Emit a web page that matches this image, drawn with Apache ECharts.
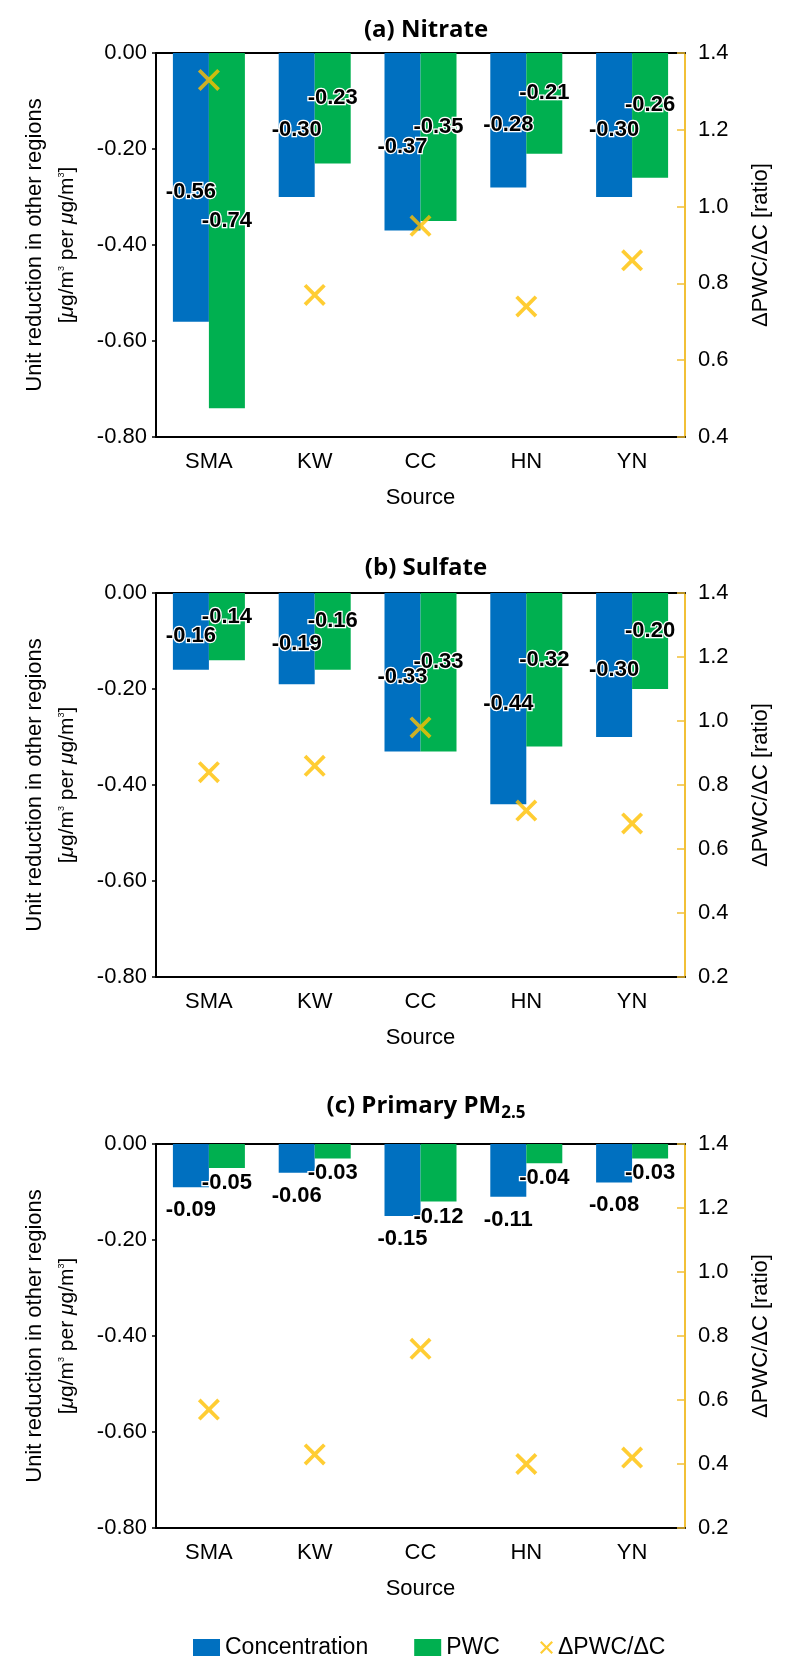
<!DOCTYPE html>
<html lang="en">
<head>
<meta charset="UTF-8">
<title>Unit reduction in other regions</title>
<script src="https://cdn.jsdelivr.net/npm/echarts@6/dist/echarts.min.js"></script>
<style>
  html, body { margin: 0; padding: 0; background: #fff; }
  #chart { width: 800px; height: 1679px; }
</style>
</head>
<body>
<div id="chart"></div>
<script>
// categories
var sources = ['SMA', 'KW', 'CC', 'HN', 'YN'];

// (a) nitrate
var nitrateConc  = [-0.56, -0.30, -0.37, -0.28, -0.30];
var nitratePwc   = [-0.74, -0.23, -0.35, -0.21, -0.26];
var nitrateRatio = [1.33, 0.77, 0.95, 0.74, 0.86];

// (b) sulfate
var sulfateConc  = [-0.16, -0.19, -0.33, -0.44, -0.30];
var sulfatePwc   = [-0.14, -0.16, -0.33, -0.32, -0.20];
var sulfateRatio = [0.84, 0.86, 0.98, 0.72, 0.68];

// (c) primary PM2.5
var primaryConc  = [-0.09, -0.06, -0.15, -0.11, -0.08];
var primaryPwc   = [-0.05, -0.03, -0.12, -0.04, -0.03];
var primaryRatio = [0.57, 0.43, 0.76, 0.40, 0.42];

// axis ranges
var leftMin = -0.8, leftMax = 0, leftStep = 0.2;
var rightMins = [0.4, 0.2, 0.2];
var rightMax = 1.4, rightStep = 0.2;

var BLUE = '#0070C0', GREEN = '#00B050', YELLOW = '#FFC000', AXIS_Y = '#F2C037';
var FONT = '"Liberation Sans", Arial, sans-serif';
var TFONT = '"Open Sans", "Noto Sans", sans-serif';
// thick x marker
var CROSS = 'path://M0,2.4L2.4,0L10,7.6L17.6,0L20,2.4L12.4,10L20,17.6L17.6,20L10,12.4L2.4,20L0,17.6L7.6,10Z';

var panels = [
  { title: '(a) Nitrate', conc: nitrateConc, pwc: nitratePwc, ratio: nitrateRatio, top: 53, titleTop: 13 },
  { title: '(b) Sulfate', conc: sulfateConc, pwc: sulfatePwc, ratio: sulfateRatio, top: 593, titleTop: 551 },
  { title: '{m|(c) Primary PM}{s|2.5}', conc: primaryConc, pwc: primaryPwc, ratio: primaryRatio, top: 1144, titleTop: 1086 }
];

var chart = echarts.init(document.getElementById('chart'));

var titles = [], grids = [], xAxes = [], yAxes = [], series = [];

panels.forEach(function (p, i) {
  titles.push({
    text: p.title,
    left: 421, top: p.titleTop, textAlign: 'center',
    textStyle: {
      fontFamily: TFONT, fontSize: 24, fontWeight: 'bold', color: '#000',
      rich: {
        m: { fontFamily: TFONT, fontSize: 24, fontWeight: 'bold', color: '#000' },
        s: { fontFamily: TFONT, fontSize: 17, fontWeight: 'bold', color: '#000', padding: [14, 0, 0, 0] }
      }
    }
  });
  grids.push({ left: 156, right: 115, top: p.top, height: 384 });

  // bottom category axis
  xAxes.push({
    gridIndex: i, type: 'category', data: sources, position: 'bottom',
    axisLine: { onZero: false, lineStyle: { color: '#000', width: 2 } },
    axisTick: { show: false },
    axisLabel: { color: '#000', fontSize: 22, fontFamily: FONT, margin: 14 },
    name: 'Source', nameLocation: 'middle', nameGap: 50,
    nameTextStyle: { color: '#000', fontSize: 22, fontFamily: FONT }
  });
  // top frame line
  xAxes.push({
    gridIndex: i, type: 'category', data: sources, position: 'top',
    axisLine: { onZero: false, lineStyle: { color: '#000', width: 2 } },
    axisTick: { show: false }, axisLabel: { show: false }
  });

  yAxes.push({
    gridIndex: i, type: 'value', position: 'left',
    min: leftMin, max: leftMax, interval: leftStep,
    axisLine: { show: true, lineStyle: { color: '#000', width: 2 } },
    axisTick: { show: true, length: 4, lineStyle: { color: '#000', width: 1.5 } },
    axisLabel: {
      color: '#000', fontSize: 22, fontFamily: FONT, margin: 9,
      formatter: function (v) { return v.toFixed(2); }
    },
    splitLine: { show: false },
    name: '{a|Unit reduction in other regions}\n{b|[}{bi|\u03bc}{b|g/m}{sup|3}{b| per }{bi|\u03bc}{b|g/m}{sup|3}{b|]}',
    nameLocation: 'middle', nameRotate: 90, nameGap: 72,
    nameTextStyle: {
      rich: {
        a: { fontFamily: FONT, fontSize: 22, color: '#000', lineHeight: 33 },
        b: { fontFamily: FONT, fontSize: 21, color: '#000', lineHeight: 33 },
        bi: { fontFamily: FONT, fontSize: 21, fontStyle: 'italic', color: '#000', lineHeight: 33 },
        sup: { fontFamily: FONT, fontSize: 9, color: '#000', lineHeight: 33, padding: [0, 0, 12, 0] }
      }
    }
  });
  yAxes.push({
    gridIndex: i, type: 'value', position: 'right',
    min: rightMins[i], max: rightMax, interval: rightStep,
    axisLine: { show: true, lineStyle: { color: AXIS_Y, width: 2 } },
    axisTick: { show: true, inside: true, length: 8, lineStyle: { color: AXIS_Y, width: 1.5 } },
    axisLabel: {
      color: '#000', fontSize: 22, fontFamily: FONT, margin: 13,
      formatter: function (v) { return v.toFixed(1); }
    },
    splitLine: { show: false },
    name: '\u0394PWC/\u0394C [ratio]',
    nameLocation: 'middle', nameRotate: 90, nameGap: 65,
    nameTextStyle: { color: '#000', fontSize: 22, fontFamily: FONT }
  });

  function barLabel(offsetY) {
    return {
      show: true,
      position: i === 2 ? 'bottom' : 'inside',
      distance: 4,
      offset: [0, offsetY],
      color: '#000', fontFamily: FONT, fontSize: 22, fontWeight: 'bold',
      textBorderColor: '#fff', textBorderWidth: 2.5,
      formatter: function (q) { return q.value.toFixed(2); }
    };
  }

  series.push({
    type: 'bar', name: 'Concentration', xAxisIndex: 2 * i, yAxisIndex: 2 * i,
    data: p.conc, barWidth: 36, barGap: '0%',
    itemStyle: { color: BLUE }, label: barLabel(i === 2 ? 8 : 5)
  });
  series.push({
    type: 'bar', name: 'PWC', xAxisIndex: 2 * i, yAxisIndex: 2 * i,
    data: p.pwc, barWidth: 36, barGap: '0%',
    itemStyle: { color: GREEN }, label: barLabel(i === 2 ? 0 : -10)
  });
  series.push({
    type: 'scatter', name: '\u0394PWC/\u0394C', xAxisIndex: 2 * i, yAxisIndex: 2 * i + 1,
    data: p.ratio, symbol: CROSS, symbolSize: 22,
    itemStyle: { color: YELLOW }, z: 5
  });
});

var legendText = { color: '#000', fontSize: 23, fontFamily: FONT };

chart.setOption({
  animation: false,
  backgroundColor: '#fff',
  title: titles,
  grid: grids,
  xAxis: xAxes,
  yAxis: yAxes,
  legend: [
    {
      left: 188, top: 1631, itemWidth: 27, itemHeight: 17, itemGap: 46,
      textStyle: legendText,
      data: [
        { name: 'Concentration', icon: 'rect' },
        { name: 'PWC', icon: 'rect' }
      ]
    },
    {
      left: 535, top: 1631, itemWidth: 13, itemHeight: 13,
      textStyle: legendText,
      data: [{ name: '\u0394PWC/\u0394C', icon: CROSS }]
    }
  ],
  series: series
});
</script>
</body>
</html>
